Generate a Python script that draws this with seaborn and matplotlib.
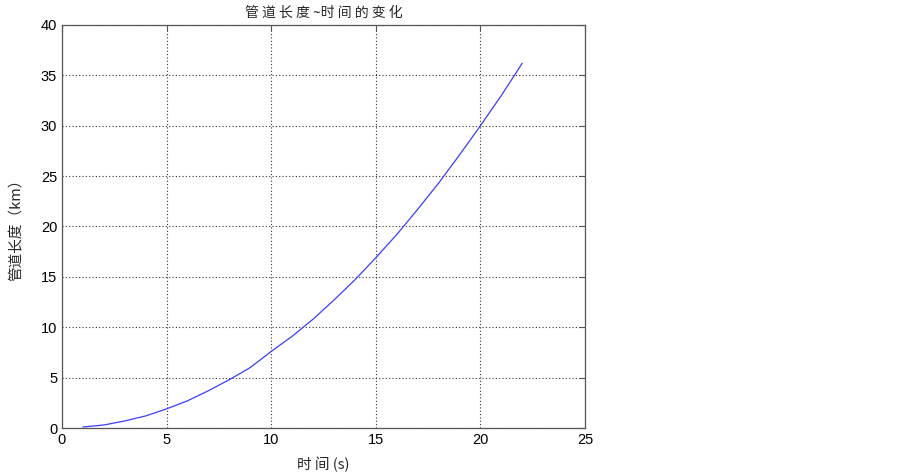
import numpy as np
import pandas as pd
import seaborn as sns
from matplotlib import pyplot as plt

# values
time_s = [1, 2, 3, 4, 5, 6, 7, 8, 9, 10, 11, 12, 13, 14, 15, 16, 17, 18, 19, 20, 21, 22]
length_km = [0.1, 0.3, 0.7, 1.2, 1.9, 2.7, 3.7, 4.8, 6.0, 7.6, 9.1, 10.8, 12.7, 14.7,
             16.9, 19.2, 21.7, 24.3, 27.1, 30.0, 33.0, 36.2]
x_ticks = [0, 5, 10, 15, 20, 25]
y_ticks = [0, 5, 10, 15, 20, 25, 30, 35, 40]

df = pd.DataFrame({'time': time_s, 'length': length_km})

sns.set_style('white')
plt.rcParams['font.family'] = ['Liberation Sans', 'Noto Sans CJK SC', 'DejaVu Sans']
cjk = ['Noto Sans CJK SC', 'DejaVu Sans']

fig = plt.figure(figsize=(9.03, 4.73), dpi=100)
ax = fig.add_axes([62 / 903, 45 / 473, 523 / 903, 403 / 473])

sns.lineplot(data=df, x='time', y='length', ax=ax, color='#3c3cff', linewidth=0.9)

ax.set_xlim(0, 25)
ax.set_ylim(0, 40)
ax.set_xticks(x_ticks)
ax.set_yticks(y_ticks)
ax.grid(True, linestyle=(0, (1, 2)), color='#333333', linewidth=0.8)
ax.tick_params(direction='in', length=4, width=0.8, colors='#555555', labelcolor='black',
               labelsize=10.5, top=True, right=True)
for s in ax.spines.values():
    s.set_color('#555555')
    s.set_linewidth(0.9)

ax.set_title('管 道 长 度 ~时 间 的 变 化', family=cjk, fontsize=10, pad=6)
ax.set_xlabel('时 间 (s)', family=cjk, fontsize=10.5, labelpad=7)
ax.set_ylabel('管道长度（km）', family=cjk, fontsize=10.5, labelpad=12)

fig.savefig('out.png', dpi=100)
